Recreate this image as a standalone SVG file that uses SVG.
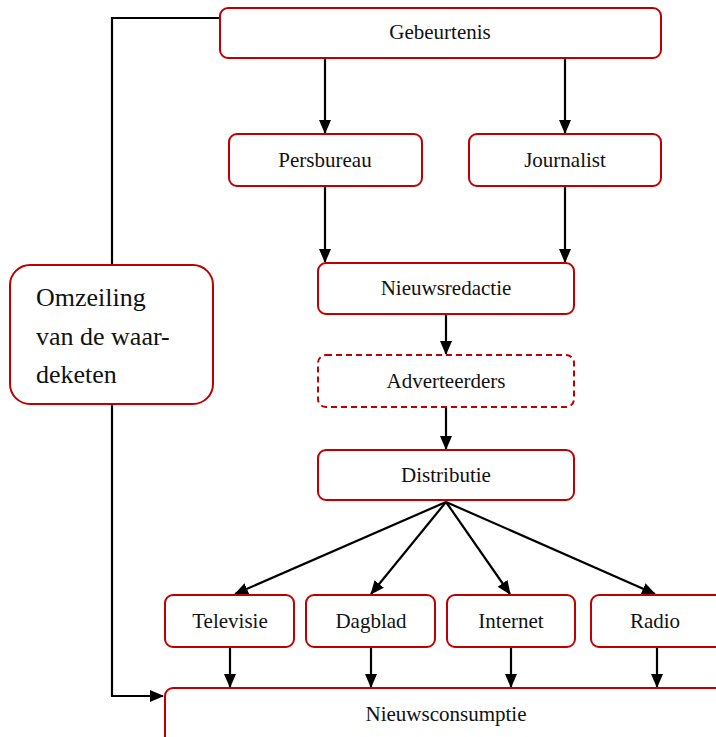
<svg xmlns="http://www.w3.org/2000/svg" width="716" height="737" viewBox="0 0 716 737">
<style>
.n{fill:#fff;stroke:#c00000;stroke-width:2}
.d{stroke-dasharray:6,4}
.t{font-family:"Liberation Serif",serif;font-size:21px;fill:#111;text-anchor:middle}
.b{font-family:"Liberation Serif",serif;font-size:26px;fill:#111}
.c{fill:none;stroke:#000;stroke-width:2.2}
</style>
<defs>
<marker id="a" markerWidth="14" markerHeight="14" refX="13" refY="6" orient="auto" markerUnits="userSpaceOnUse" viewBox="0 0 14 12">
<path d="M0,0 L14,6 L0,12 z" fill="#000"/>
</marker>
</defs>
<rect width="716" height="737" fill="#fff"/>
<g id="connectors">
<path class="c" d="M220,18 H112 V696 H163" marker-end="url(#a)"/>
<path class="c" d="M325,58 V133" marker-end="url(#a)"/>
<path class="c" d="M565,58 V133" marker-end="url(#a)"/>
<path class="c" d="M325,186 V262" marker-end="url(#a)"/>
<path class="c" d="M565,186 V262" marker-end="url(#a)"/>
<path class="c" d="M446,314 V354" marker-end="url(#a)"/>
<path class="c" d="M446,407 V449" marker-end="url(#a)"/>
<path class="c" d="M446,502 L235,594" marker-end="url(#a)"/>
<path class="c" d="M446,502 L371,594" marker-end="url(#a)"/>
<path class="c" d="M446,502 L510,594" marker-end="url(#a)"/>
<path class="c" d="M446,502 L655,594" marker-end="url(#a)"/>
<path class="c" d="M230,647 V687" marker-end="url(#a)"/>
<path class="c" d="M371,647 V687" marker-end="url(#a)"/>
<path class="c" d="M511,647 V687" marker-end="url(#a)"/>
<path class="c" d="M657,647 V687" marker-end="url(#a)"/>
</g>
<g id="gebeurtenis"><rect class="n" x="220" y="8" width="441" height="50" rx="8"/><text class="t" x="440" y="39">Gebeurtenis</text></g>
<g id="persbureau"><rect class="n" x="229" y="134" width="193" height="52" rx="8"/><text class="t" x="325" y="167">Persbureau</text></g>
<g id="journalist"><rect class="n" x="469" y="134" width="192" height="52" rx="8"/><text class="t" x="565" y="167">Journalist</text></g>
<g id="nieuwsredactie"><rect class="n" x="318" y="263" width="256" height="51" rx="8"/><text class="t" x="446" y="295">Nieuwsredactie</text></g>
<g id="adverteerders"><rect class="n d" x="318" y="355" width="256" height="52" rx="8"/><text class="t" x="446" y="388">Adverteerders</text></g>
<g id="distributie"><rect class="n" x="318" y="450" width="256" height="50" rx="8"/><text class="t" x="446" y="482">Distributie</text></g>
<g id="omzeiling"><rect class="n" x="10" y="265" width="203" height="139" rx="20"/><text class="b"><tspan x="36" y="306">Omzeiling</tspan><tspan x="36" y="345">van de waar-</tspan><tspan x="36" y="383">deketen</tspan></text></g>
<g id="televisie"><rect class="n" x="165" y="595" width="129" height="52" rx="8"/><text class="t" x="230" y="628">Televisie</text></g>
<g id="dagblad"><rect class="n" x="306" y="595" width="129" height="52" rx="8"/><text class="t" x="371" y="628">Dagblad</text></g>
<g id="internet"><rect class="n" x="447" y="595" width="128" height="52" rx="8"/><text class="t" x="511" y="628">Internet</text></g>
<g id="radio"><rect class="n" x="591" y="595" width="132" height="52" rx="8"/><text class="t" x="655" y="628">Radio</text></g>
<g id="nieuwsconsumptie"><rect class="n" x="165" y="688" width="560" height="60" rx="8"/><text class="t" x="446" y="721">Nieuwsconsumptie</text></g>
</svg>
